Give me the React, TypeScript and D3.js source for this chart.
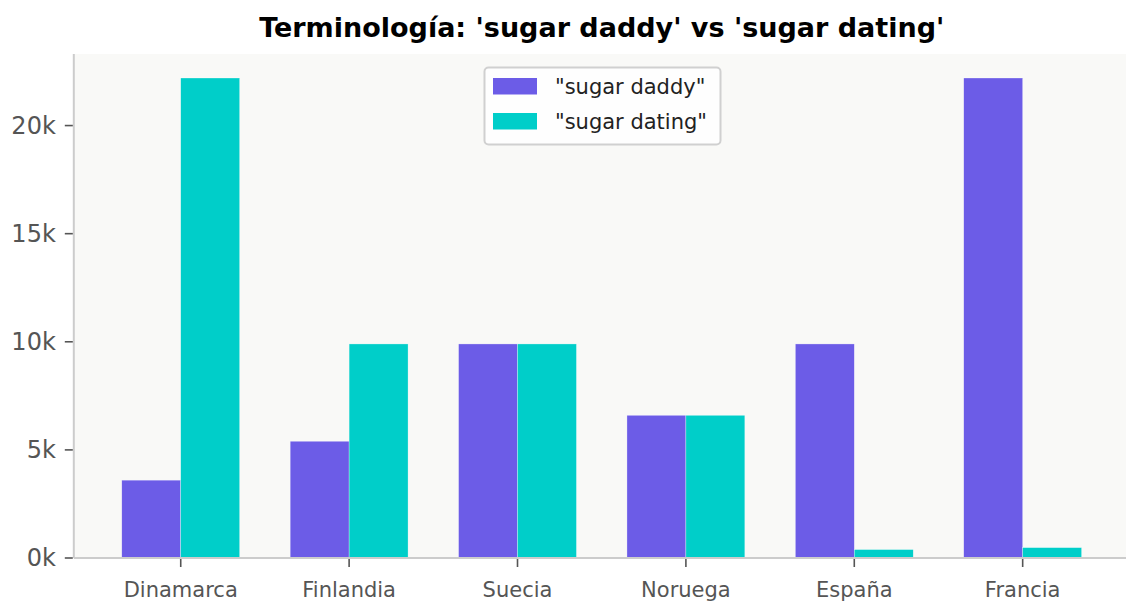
import React from "react";
import * as d3 from "d3";

const categories = ["Dinamarca", "Finlandia", "Suecia", "Noruega", "España", "Francia"];
const seriesNames = ['"sugar daddy"', '"sugar dating"'];
const sugarDaddy = [3600, 5400, 9900, 6600, 9900, 22200];
const sugarDating = [22200, 9900, 9900, 6600, 390, 480];
const yTicks = [0, 5000, 10000, 15000, 20000];
const colors = ["#6c5ce7", "#00cec9"];
const title = "Terminología: 'sugar daddy' vs 'sugar dating'";

const W = 1126;
const H = 601;
const M = { left: 73.8, right: 1129.6, top: 54, bottom: 558 };
const FONT = "'DejaVu Sans', sans-serif";

export default function App() {
  const series = [sugarDaddy, sugarDating];
  const yMax = d3.max(series.flat()) as number;
  const x = d3
    .scaleBand<string>()
    .domain(categories)
    .range([M.left, M.right])
    .paddingInner(0.3)
    .paddingOuter(0.285);
  const xs = d3.scaleBand<number>().domain([0, 1]).range([0, x.bandwidth()]).padding(0);
  const y = d3.scaleLinear().domain([0, yMax * 1.05]).range([M.bottom, M.top]);

  return (
    <svg
      width={W}
      height={H}
      style={{ position: "absolute", left: 0, top: 0, background: "#ffffff" }}
      fontFamily={FONT}
    >
      <rect x={M.left} y={M.top} width={M.right - M.left} height={M.bottom - M.top} fill="#f9f9f7" />
      {series.map((vals, si) =>
        vals.map((v, i) => (
          <rect
            key={`${si}-${i}`}
            x={(x(categories[i]) as number) + (xs(si) as number)}
            y={y(v)}
            width={xs.bandwidth()}
            height={y(0) - y(v)}
            fill={colors[si]}
            stroke="#ffffff"
            strokeWidth={0.5}
            strokeOpacity={0.6}
          />
        ))
      )}
      {/* spines */}
      <line x1={M.left} x2={M.left} y1={M.top} y2={M.bottom} stroke="#cccccc" strokeWidth={2} />
      <line x1={M.left} x2={M.right} y1={M.bottom} y2={M.bottom} stroke="#cccccc" strokeWidth={2} />
      {/* y ticks */}
      {yTicks.map((t) => (
        <g key={t} transform={`translate(${M.left},${y(t)})`}>
          <line x1={-9} x2={-1} stroke="#555555" strokeWidth={1.6} />
          <text
            x={-18}
            dy="0.35em"
            textAnchor="end"
            fontSize={24}
            fill="#555555"
          >
            {`${t / 1000}k`}
          </text>
        </g>
      ))}
      {/* x ticks */}
      {categories.map((c) => {
        const cx = (x(c) as number) + x.bandwidth() / 2;
        return (
          <g key={c} transform={`translate(${cx},${M.bottom})`}>
            <line y1={1} y2={9} stroke="#555555" strokeWidth={1.6} />
            <text y={39} textAnchor="middle" fontSize={21} fill="#555555">
              {c}
            </text>
          </g>
        );
      })}
      {/* title */}
      <text
        x={(M.left + M.right) / 2}
        y={37}
        textAnchor="middle"
        fontSize={27}
        fontWeight="bold"
        fill="#000000"
      >
        {title}
      </text>
      {/* legend */}
      <g transform="translate(484,67)">
        <rect x={0.5} y={0.5} width={236} height={77} rx={4} fill="#ffffff" fillOpacity={0.8} stroke="#d0d0d0" strokeWidth={2} />
        {seriesNames.map((n, i) => (
          <g key={n} transform={`translate(0,${i * 35})`}>
            <rect x={9} y={11} width={44} height={16.5} fill={colors[i]} />
            <text x={71} y={27} fontSize={21} fill="#222222">
              {n}
            </text>
          </g>
        ))}
      </g>
    </svg>
  );
}
